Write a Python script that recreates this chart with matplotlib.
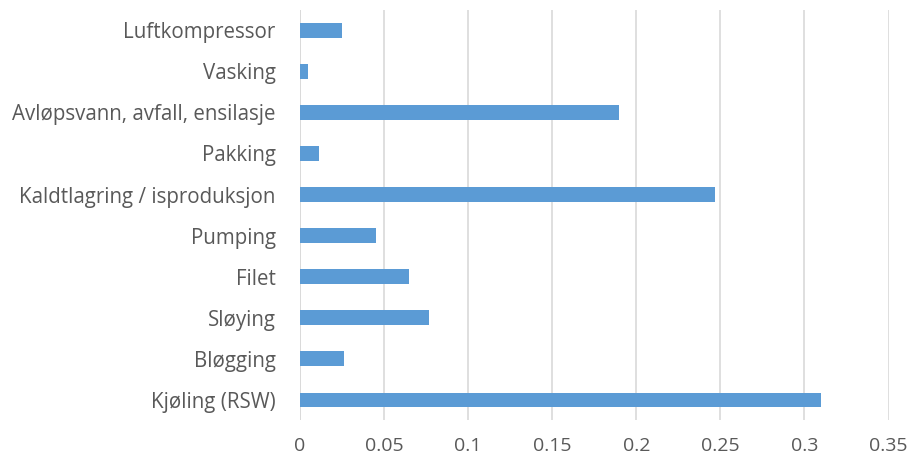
import matplotlib
matplotlib.use("Agg")
import matplotlib.pyplot as plt

# Energy use per process step
categories = [
    "Kjøling (RSW)",
    "Bløgging",
    "Sløying",
    "Filet",
    "Pumping",
    "Kaldtlagring / isproduksjon",
    "Pakking",
    "Avløpsvann, avfall, ensilasje",
    "Vasking",
    "Luftkompressor",
]
values = [0.31, 0.026, 0.077, 0.065, 0.045, 0.247, 0.011, 0.19, 0.0045, 0.025]
xticks = [0, 0.05, 0.1, 0.15, 0.2, 0.25, 0.3, 0.35]
xtick_labels = ["0", "0.05", "0.1", "0.15", "0.2", "0.25", "0.3", "0.35"]

plt.rcParams["font.family"] = ["Open Sans", "DejaVu Sans"]

fig = plt.figure(figsize=(9.10, 4.59), dpi=100)
ax = fig.add_axes([0.3297, 0.0839, 0.6467, 0.8951])

ypos = range(len(categories))
ax.barh(ypos, values, height=0.36, color="#5b9bd5", zorder=3)

ax.set_xlim(0, 0.35)
ax.set_ylim(-0.5, len(categories) - 0.5)
ax.set_xticks(xticks)
ax.set_xticklabels(xtick_labels, fontsize=14, color="#595959")
ax.set_yticks(list(ypos))
ax.set_yticklabels(categories, fontsize=14.8, color="#595959")

ax.grid(axis="x", color="#d9d9d9", linewidth=1.2, zorder=0)
for s in ax.spines.values():
    s.set_visible(False)
ax.axvline(0, color="#d9d9d9", linewidth=1.2, zorder=1)
ax.tick_params(axis="both", length=0)
ax.tick_params(axis="x", pad=12)
ax.tick_params(axis="y", pad=17.5)

fig.savefig("out.png", dpi=100)
